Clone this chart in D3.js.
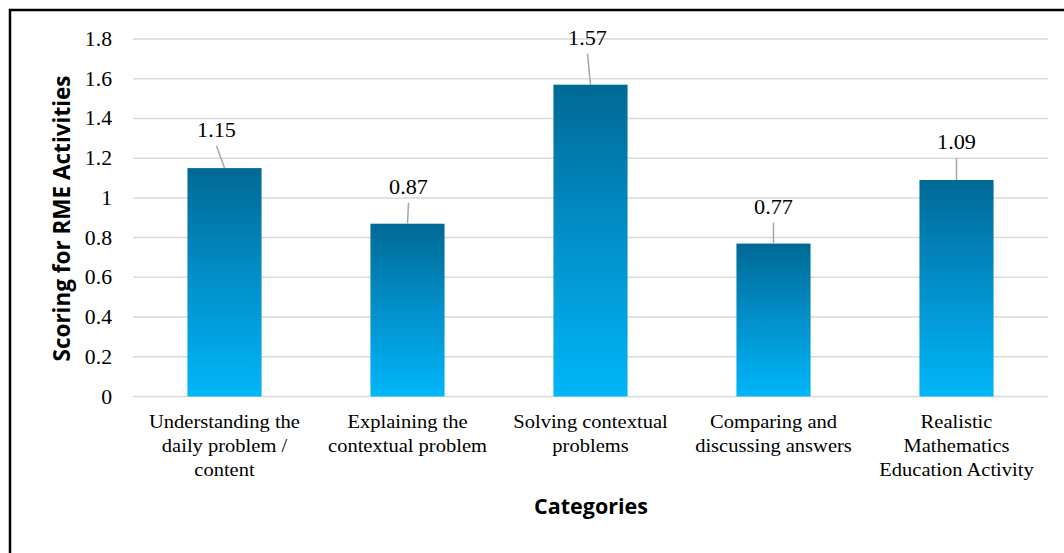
<!DOCTYPE html>
<html>
<head>
<meta charset="utf-8">
<script src="https://cdn.jsdelivr.net/npm/d3@7/dist/d3.min.js"></script>
<style>
  html, body { margin: 0; padding: 0; background: #fff; }
  svg { display: block; }
</style>
</head>
<body>
<svg id="chart" width="1064" height="553"></svg>
<script>
(function () {
// ---- data ----
const categoryLines = [
  ["Understanding the", "daily problem /", "content"],
  ["Explaining the", "contextual problem"],
  ["Solving contextual", "problems"],
  ["Comparing and", "discussing answers"],
  ["Realistic", "Mathematics", "Education Activity"]
];
const categories = categoryLines.map(l => l.join(" "));
const values = [1.15, 0.87, 1.57, 0.77, 1.09];
const valueLabels = ["1.15", "0.87", "1.57", "0.77", "1.09"];
const yTicks = [0, 0.2, 0.4, 0.6, 0.8, 1, 1.2, 1.4, 1.6, 1.8];
const yTitle = "Scoring for RME Activities";
const xTitle = "Categories";

// label nudges (layout only): offset from bar centre / bar top
const labelNudge = [[-8, -31], [1, -30], [-3, -40], [0, -30], [0, -31]];

// ---- layout ----
const svg = d3.select("#chart");
const pLeft = 133, pRight = 1048, pTop = 39, pBottom = 396.5;
const SX = 1.06;
const serif = "'Liberation Serif', 'Times New Roman', serif";
const sans = "'Open Sans', 'Noto Sans', sans-serif";

const x = d3.scaleBand().domain(categories).range([pLeft, pRight])
  .paddingInner(0.595).paddingOuter(0.2975);
const y = d3.scaleLinear().domain([0, 1.8]).range([pBottom, pTop]);

// outer frame
svg.append("rect").attr("x", 10).attr("y", 10).attr("width", 1100).attr("height", 600)
  .attr("fill", "none").attr("stroke", "#000").attr("stroke-width", 2.5);

// gradient
const defs = svg.append("defs");
const grad = defs.append("linearGradient").attr("id", "barGrad")
  .attr("x1", 0).attr("y1", 0).attr("x2", 0).attr("y2", 1);
grad.append("stop").attr("offset", "0%").attr("stop-color", "#006995");
grad.append("stop").attr("offset", "50%").attr("stop-color", "#0290cb");
grad.append("stop").attr("offset", "100%").attr("stop-color", "#00b6f8");

// gridlines
svg.append("g").selectAll("line").data(yTicks).join("line")
  .attr("x1", pLeft).attr("x2", pRight)
  .attr("y1", d => y(d)).attr("y2", d => y(d))
  .attr("stroke", "#d9d9d9").attr("stroke-width", 1.5);

// y tick labels
svg.append("g").selectAll("text").data(yTicks).join("text")
  .attr("transform", d => `translate(112,${y(d) + 7}) scale(${SX},1)`)
  .attr("text-anchor", "end")
  .attr("font-family", serif).attr("font-size", 20.5).attr("fill", "#000")
  .text(d => d3.format("~g")(d));

// bars
svg.append("g").selectAll("rect").data(values).join("rect")
  .attr("x", (d, i) => x(categories[i]))
  .attr("width", x.bandwidth())
  .attr("y", d => y(d))
  .attr("height", d => y(0) - y(d))
  .attr("fill", "url(#barGrad)");

// leader lines + value labels
const lab = svg.append("g");
values.forEach((v, i) => {
  const cx = x(categories[i]) + x.bandwidth() / 2;
  const ty = y(v);
  const lx = cx + labelNudge[i][0];
  const ly = ty + labelNudge[i][1];
  lab.append("line").attr("x1", lx).attr("y1", ly + 9).attr("x2", cx).attr("y2", ty)
    .attr("stroke", "#a6a6a6").attr("stroke-width", 1.5);
  lab.append("text")
    .attr("transform", `translate(${lx},${ly}) scale(${SX},1)`)
    .attr("text-anchor", "middle")
    .attr("font-family", serif).attr("font-size", 21).attr("fill", "#000")
    .text(valueLabels[i]);
});

// category labels
const cl = svg.append("g");
categoryLines.forEach((lines, i) => {
  const cx = x(categories[i]) + x.bandwidth() / 2;
  lines.forEach((t, j) => {
    cl.append("text")
      .attr("transform", `translate(${cx},${428 + j * 24}) scale(1.08,1)`)
      .attr("text-anchor", "middle")
      .attr("font-family", serif).attr("font-size", 19).attr("fill", "#000")
      .text(t);
  });
});

// axis titles
svg.append("text")
  .attr("transform", `translate(70,218.5) rotate(-90)`)
  .attr("text-anchor", "middle")
  .attr("font-family", sans).attr("font-weight", "bold").attr("font-size", 22.5)
  .attr("fill", "#000").text(yTitle);

svg.append("text")
  .attr("x", 591).attr("y", 514)
  .attr("text-anchor", "middle")
  .attr("font-family", sans).attr("font-weight", "bold").attr("font-size", 21.5)
  .attr("fill", "#000").text(xTitle);
})();
</script>
</body>
</html>
